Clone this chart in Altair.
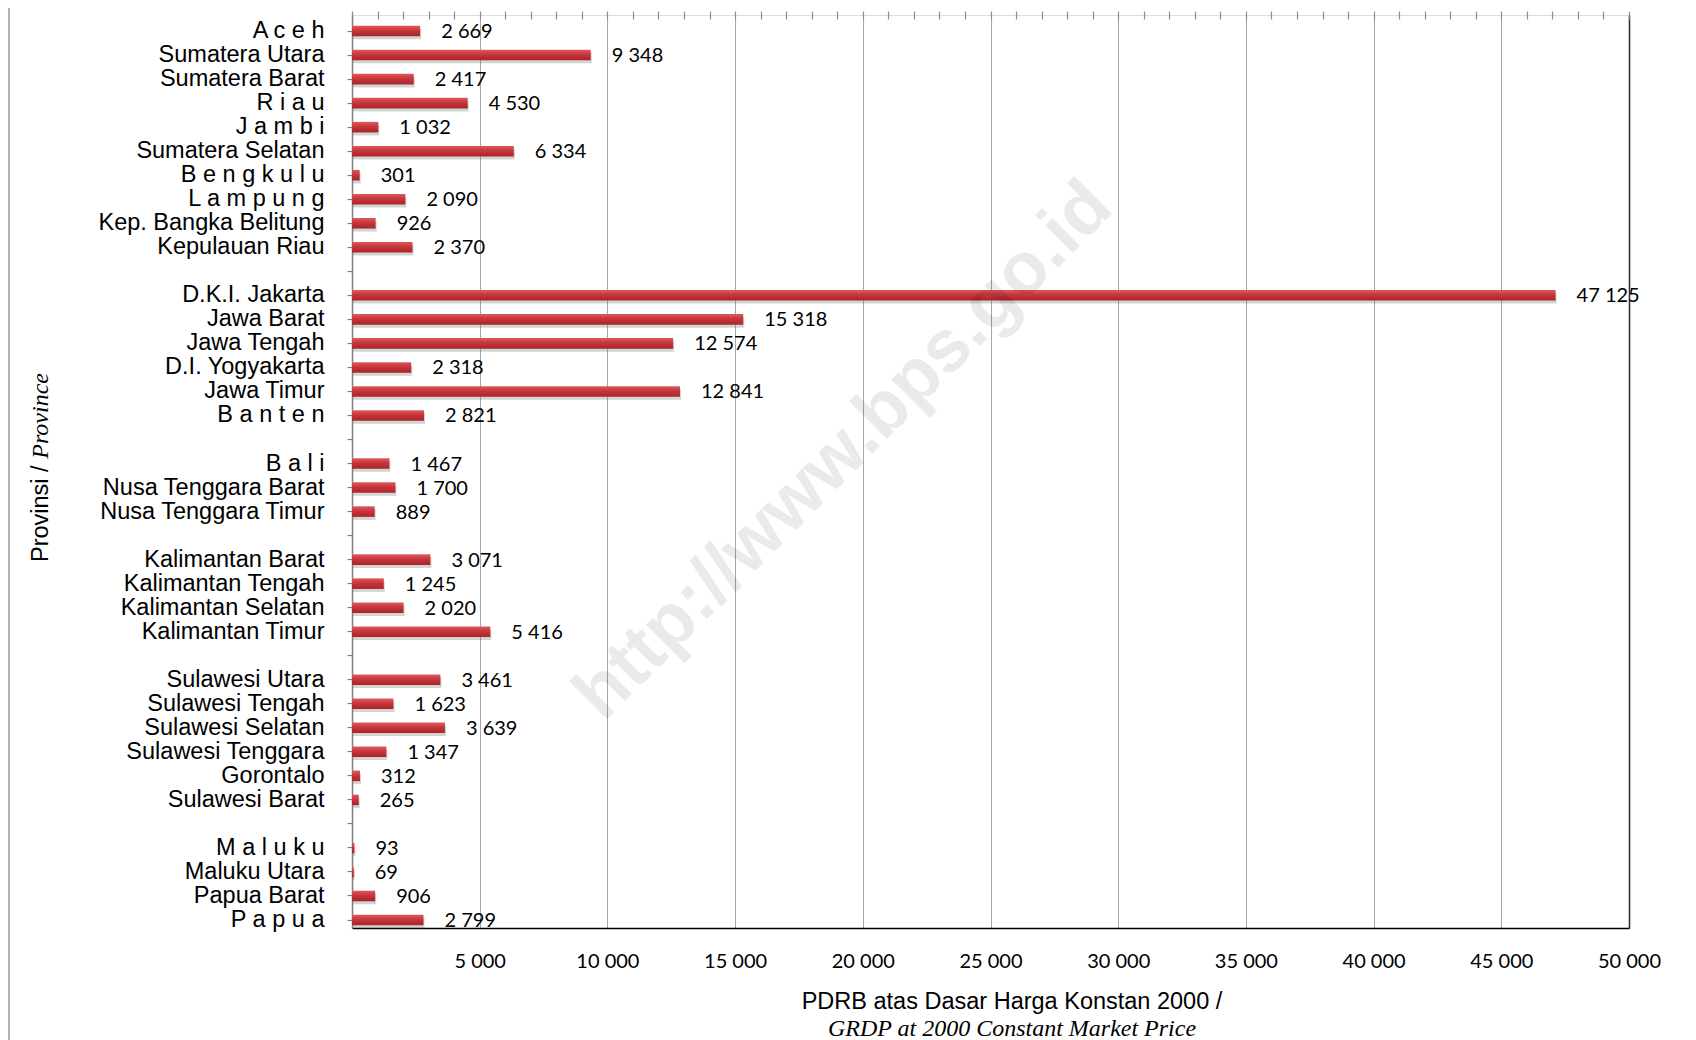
import altair as alt
import pandas as pd

provinces = [
    "A c e h", "Sumatera Utara", "Sumatera Barat", "R i a u", "J a m b i",
    "Sumatera Selatan", "B e n g k u l u", "L a m p u n g", "Kep. Bangka Belitung",
    "Kepulauan Riau", "_gap1",
    "D.K.I. Jakarta", "Jawa Barat", "Jawa Tengah", "D.I. Yogyakarta", "Jawa Timur",
    "B a n t e n", "_gap2",
    "B a l i", "Nusa Tenggara Barat", "Nusa Tenggara Timur", "_gap3",
    "Kalimantan Barat", "Kalimantan Tengah", "Kalimantan Selatan", "Kalimantan Timur", "_gap4",
    "Sulawesi Utara", "Sulawesi Tengah", "Sulawesi Selatan", "Sulawesi Tenggara",
    "Gorontalo", "Sulawesi Barat", "_gap5",
    "M a l u k u", "Maluku Utara", "Papua Barat", "P a p u a",
]
values = [
    2669, 9348, 2417, 4530, 1032, 6334, 301, 2090, 926, 2370, None,
    47125, 15318, 12574, 2318, 12841, 2821, None,
    1467, 1700, 889, None,
    3071, 1245, 2020, 5416, None,
    3461, 1623, 3639, 1347, 312, 265, None,
    93, 69, 906, 2799,
]
x_ticks = [5000, 10000, 15000, 20000, 25000, 30000, 35000, 40000, 45000, 50000]
minor_ticks = list(range(0, 50001, 1000))

rows = [(p, v) for p, v in zip(provinces, values) if v is not None]
df = pd.DataFrame({
    "prov": [r[0] for r in rows],
    "val": [r[1] for r in rows],
    "lbl": [f"{r[1]:,}".replace(",", " ") for r in rows],
})

W, H = 1277, 913

xscale = alt.Scale(domain=[0, 50000], nice=False, zero=True)
yscale = alt.Scale(domain=provinces, paddingInner=0.56, paddingOuter=0.28, align=0.8)

base = alt.Chart(df)

y_axis = alt.Axis(
    labelExpr="indexof(datum.value, '_gap') == 0 ? '' : datum.value",
    labelFont="Liberation Sans", labelFontSize=23.5, labelColor="#000",
    labelPadding=23, labelLimit=0, tickSize=5, tickColor="#7f7f7f", tickWidth=1.2,
    domainColor="#7f7f7f", domainWidth=1.5, grid=False,
)
y_enc = alt.Y("prov:N", scale=yscale, title=None, axis=y_axis)

shadow = base.mark_bar(color="#666", opacity=0.28, yOffset=3, xOffset=1).encode(
    x=alt.X("val:Q", scale=xscale, axis=None),
    y=y_enc,
)

bars = base.mark_bar(
    color=alt.Gradient(
        gradient="linear",
        stops=[
            alt.GradientStop(color="#dc5a5d", offset=0),
            alt.GradientStop(color="#c9353a", offset=0.45),
            alt.GradientStop(color="#a3262a", offset=1),
        ],
        x1=0, x2=0, y1=0, y2=1,
    )
).encode(
    x=alt.X(
        "val:Q", scale=xscale, title=None,
        axis=alt.Axis(
            orient="bottom", values=x_ticks,
            labelExpr="replace(format(datum.value, ','), ',', ' ')",
            labelFont="Lato", labelFontSize=20, labelColor="#000", labelPadding=23,
            labelFlush=False, labelOverlap=False,
            tickSize=0, domainColor="#000", domainWidth=1.5,
            grid=True,
            gridColor={"condition": {"test": "datum.value == 50000", "value": "#333333"}, "value": "#a6a6a6"},
            gridWidth={"condition": {"test": "datum.value == 50000", "value": 1.6}, "value": 1},
        ),
    ),
    y=y_enc,
)

labels = base.mark_text(
    align="left", baseline="middle", dx=21, dy=1,
    font="Lato", fontSize=20, color="#000",
).encode(
    x=alt.X(
        "val:Q", scale=xscale, title=None,
        axis=alt.Axis(
            orient="top", values=minor_ticks, labels=False, domain=False, grid=False,
            tickSize=8, offset=-4, tickColor="#8c8c8c", tickWidth=1.2,
        ),
    ),
    y=y_enc,
    text="lbl:N",
)

one = pd.DataFrame({"a": [0]})

def note(text, x, y, **kw):
    return alt.Chart(one).mark_text(text=text, **kw).encode(x=alt.value(x), y=alt.value(y))

watermark = note(
    "http://www.bps.go.id", 492, 436, angle=315, align="center", baseline="middle",
    font="Liberation Sans", fontWeight="bold", fontSize=74, color="#000", opacity=0.08,
)

xt1 = note("PDRB atas Dasar Harga Konstan 2000 /", 660, 987, align="center", baseline="middle",
           font="Liberation Sans", fontSize=23.5, color="#000")
xt2 = note("GRDP at 2000 Constant Market Price", 660, 1014, align="center", baseline="middle",
           font="Liberation Serif", fontStyle="italic", fontSize=24, color="#000")
yt1 = note("Provinsi /", -311, 547, angle=270, align="left", baseline="middle",
           font="Liberation Sans", fontSize=23.5, color="#000")
yt2 = note("Province", -311, 358, angle=270, align="right", baseline="middle",
           font="Liberation Serif", fontStyle="italic", fontSize=24, color="#000")

border = alt.Chart(one).mark_rule(color="#9a9a9a", strokeWidth=1.5).encode(
    x=alt.value(-343), y=alt.value(-15), y2=alt.value(1040)
)

chart = alt.layer(
    shadow, bars, labels, watermark, xt1, xt2, yt1, yt2, border
).resolve_axis(x="independent").properties(
    width=W, height=H,
    autosize=alt.AutoSizeParams(type="none"),
    padding={"left": 344, "top": 7, "right": 40, "bottom": 116},
).configure_view(
    stroke="#8c8c8c", strokeWidth=1.5
).configure(background="white")

chart.save("out.html", embed_options={"renderer": "svg", "actions": False})
